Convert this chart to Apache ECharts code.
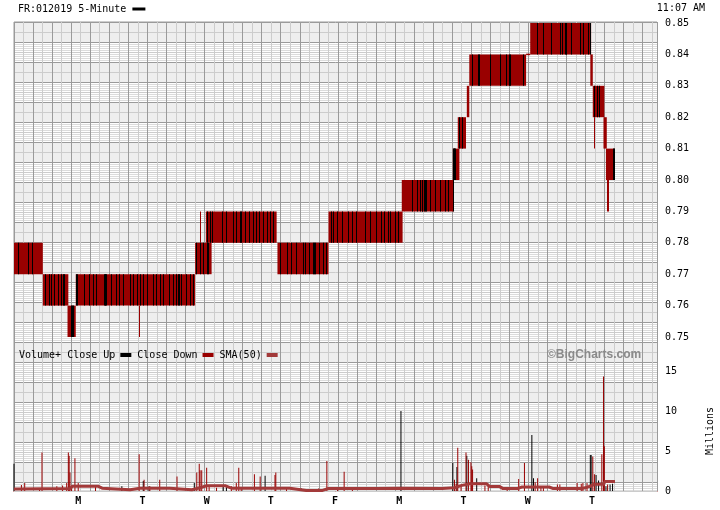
<!DOCTYPE html>
<html><head><meta charset="utf-8">
<script src="https://cdn.jsdelivr.net/npm/echarts@6/dist/echarts.min.js"></script>
<style>html,body{margin:0;padding:0;background:#fff}#c{width:720px;height:510px}</style>
</head><body><div id="c"></div>
<script>
// ---- data (bar index = 5-minute bar, 78 bars per trading day) ----
const dayLabels = ['', 'M', 'T', 'W', 'T', 'F', 'M', 'T', 'W', 'T'];
const barsPerDay = 78;
const lastBar = 781;
// runs of bars: [firstBar, endBar(excl), low, high]
const priceRuns = [
  [0, 35, 0.77, 0.78], [35, 66, 0.76, 0.77], [65, 75, 0.75, 0.76], [75, 220, 0.76, 0.77],
  [220, 240, 0.77, 0.78], [233, 319, 0.78, 0.79], [320, 382, 0.77, 0.78], [382, 472, 0.78, 0.79],
  [471, 534, 0.79, 0.80], [533, 541, 0.80, 0.81], [539, 549, 0.81, 0.82], [550, 553, 0.82, 0.83],
  [553, 622, 0.83, 0.84], [622, 627, 0.84, 0.84], [627, 701, 0.84, 0.85], [700, 703, 0.83, 0.84],
  [703, 717, 0.82, 0.83], [716, 720, 0.81, 0.82], [719, 730, 0.80, 0.81]
];
// single bars reaching outside the run: [bar, low, high]
const priceWicks = [[152, 0.75, 0.76], [226, 0.78, 0.79], [705, 0.81, 0.82], [720, 0.79, 0.80], [721, 0.79, 0.80]];
// close-up bars: [bar, low, high]
const upBars = [
  [5,0.77,0.78],[17,0.77,0.78],[22,0.77,0.78],
  [38,0.76,0.77],[43,0.76,0.77],[45,0.76,0.77],[49,0.76,0.77],[54,0.76,0.77],[57,0.76,0.77],[59,0.76,0.77],[61,0.76,0.77],
  [69,0.75,0.76],[71,0.75,0.76],[72,0.75,0.76],
  [75,0.76,0.77],[76,0.76,0.77],[85,0.76,0.77],[91,0.76,0.77],[96,0.76,0.77],[99,0.76,0.77],[109,0.76,0.77],[110,0.76,0.77],
  [111,0.76,0.77],[112,0.76,0.77],[118,0.76,0.77],[124,0.76,0.77],[128,0.76,0.77],[132,0.76,0.77],[141,0.76,0.77],[145,0.76,0.77],
  [149,0.76,0.77],[153,0.76,0.77],[157,0.76,0.77],[162,0.76,0.77],[169,0.76,0.77],[173,0.76,0.77],[177,0.76,0.77],[181,0.76,0.77],
  [188,0.76,0.77],[193,0.76,0.77],[197,0.76,0.77],[199,0.76,0.77],[201,0.76,0.77],[203,0.76,0.77],[209,0.76,0.77],[214,0.76,0.77],[217,0.76,0.77],
  [221,0.77,0.78],[226,0.77,0.78],[230,0.77,0.78],[235,0.77,0.78],[236,0.77,0.78],
  [234,0.78,0.79],[238,0.78,0.79],[241,0.78,0.79],[253,0.78,0.79],[257,0.78,0.79],[266,0.78,0.79],[270,0.78,0.79],[274,0.78,0.79],
  [276,0.78,0.79],[281,0.78,0.79],[286,0.78,0.79],[290,0.78,0.79],[294,0.78,0.79],[298,0.78,0.79],[302,0.78,0.79],[307,0.78,0.79],[311,0.78,0.79],[315,0.78,0.79],
  [323,0.77,0.78],[331,0.77,0.78],[337,0.77,0.78],[342,0.77,0.78],[351,0.77,0.78],[354,0.77,0.78],[358,0.77,0.78],[363,0.77,0.78],
  [364,0.77,0.78],[365,0.77,0.78],[371,0.77,0.78],[375,0.77,0.78],[379,0.77,0.78],
  [385,0.78,0.79],[388,0.78,0.79],[392,0.78,0.79],[399,0.78,0.79],[406,0.78,0.79],[410,0.78,0.79],[416,0.78,0.79],[426,0.78,0.79],
  [433,0.78,0.79],[440,0.78,0.79],[446,0.78,0.79],[450,0.78,0.79],[454,0.78,0.79],[457,0.78,0.79],[463,0.78,0.79],[467,0.78,0.79],
  [483,0.79,0.80],[489,0.79,0.80],[493,0.79,0.80],[495,0.79,0.80],[496,0.79,0.80],[498,0.79,0.80],[499,0.79,0.80],[500,0.79,0.80],
  [505,0.79,0.80],[511,0.79,0.80],[518,0.79,0.80],[524,0.79,0.80],[527,0.79,0.80],[533,0.79,0.80],
  [533,0.80,0.81],[534,0.80,0.81],[535,0.80,0.81],[536,0.80,0.81],
  [541,0.81,0.82],[544,0.81,0.82],
  [556,0.83,0.84],[564,0.83,0.84],[565,0.83,0.84],[578,0.83,0.84],[590,0.83,0.84],[598,0.83,0.84],[601,0.83,0.84],[602,0.83,0.84],[618,0.83,0.84],
  [635,0.84,0.85],[642,0.84,0.85],[652,0.84,0.85],[663,0.84,0.85],[666,0.84,0.85],[669,0.84,0.85],[670,0.84,0.85],[671,0.84,0.85],
  [677,0.84,0.85],[688,0.84,0.85],[691,0.84,0.85],[697,0.84,0.85],[700,0.84,0.85],
  [704,0.82,0.83],[708,0.82,0.83],[711,0.82,0.83],
  [728,0.80,0.81],[729,0.80,0.81]
];
// volume in millions: [bar, volume]
const volumeUp = [
  [0,3.4],[131,0.6],[157,1.25],[164,0.6],[219,1.0],[254,0.5],[258,0.6],[305,1.9],[349,0.3],[470,10.0],
  [533,3.5],[538,3.0],[550,4.4],[562,1.6],[629,7.0],[631,1.6],[700,4.5],[701,4.5],[707,2.0],[710,1.3],[719,0.6],[724,0.8],[727,0.9]
];
const volumeDown = [
  [9,0.75],[13,1.0],[31,0.3],[34,4.8],[52,0.6],[59,0.7],[64,1.0],[66,4.8],[67,4.4],[68,2.3],[70,0.6],[74,4.1],[78,1.0],[99,0.7],
  [152,4.6],[158,1.4],[165,0.6],[177,1.4],[198,1.8],[222,2.3],[225,3.4],[226,2.6],[228,2.6],[234,2.9],[237,0.7],[246,0.4],[264,0.6],
  [270,1.0],[273,2.9],[276,0.4],[292,2.1],[299,1.8],[317,2.0],[318,2.3],[331,0.4],[370,0.3],[380,3.75],[393,0.5],[401,2.4],[411,0.4],
  [535,1.4],[537,0.9],[539,5.4],[543,0.5],[549,4.8],[552,3.9],[555,3.6],[556,3.1],[557,2.7],[572,0.7],[576,0.9],[599,0.4],
  [613,1.5],[620,3.5],[633,1.1],[636,1.6],[640,0.5],[643,0.4],[660,0.8],[663,0.8],[684,1.0],[689,0.9],[691,1.0],[696,1.0],
  [703,4.3],[705,2.1],[714,4.6],[716,14.3],[717,5.6],[721,0.8]
];
const sma50 = [
  [0,0.25],[68,0.3],[71,0.6],[102,0.6],[107,0.35],[141,0.15],[153,0.35],[189,0.35],[216,0.15],[226,0.4],[234,0.65],[257,0.65],
  [264,0.35],[335,0.35],[355,0.05],[374,0.05],[381,0.3],[440,0.3],[470,0.35],[520,0.3],[535,0.4],[544,0.7],[554,0.9],[574,0.9],
  [578,0.55],[590,0.55],[594,0.3],[611,0.3],[617,0.5],[650,0.5],[655,0.3],[690,0.3],[700,0.6],[705,0.85],[716,0.85],[718,1.2],[730,1.2]
];

// ---- chart ----
const RED = '#990000', SMA = '#a33a3a', MONO = 'DejaVu Sans Mono';
const chart = echarts.init(document.getElementById('c'), null, {renderer: 'canvas'});

// striped fill for the white background bands
const stripe = document.createElement('canvas');
stripe.width = 2; stripe.height = 2;
const sctx = stripe.getContext('2d');
sctx.fillStyle = '#ffffff'; sctx.fillRect(0, 0, 2, 2);
sctx.fillStyle = '#dcdcdc'; sctx.fillRect(0, 0, 2, 1);

function runItem(params, api) {
  const p0 = api.coord([api.value(0), api.value(3)]);
  const p1 = api.coord([api.value(1), api.value(2)]);
  let y = p0[1], h = p1[1] - p0[1];
  if (h < 1.5) { y -= 0.75; h = 1.5; }
  return {type: 'rect', shape: {x: p0[0], y: y, width: Math.max(p1[0] - p0[0], 1), height: h}, style: {fill: RED}};
}
function lineItem(color) {
  return function (params, api) {
    const p0 = api.coord([api.value(0), api.value(2)]);
    const p1 = api.coord([api.value(0), api.value(1)]);
    return {type: 'rect', shape: {x: Math.round(p0[0]), y: p0[1], width: 1, height: p1[1] - p0[1]}, style: {fill: color}};
  };
}

chart.setOption({
  animation: false,
  backgroundColor: '#fff',
  title: [
    {text: 'FR:012019 5-Minute {s|}', left: 18, top: 4, padding: 0,
     textStyle: {fontFamily: MONO, fontSize: 10, fontWeight: 'normal', color: '#000',
       rich: {s: {backgroundColor: '#000', width: 13, height: 3}}}},
    {text: '11:07 AM', right: 15, top: 3, padding: 0, textStyle: {fontFamily: MONO, fontSize: 10, fontWeight: 'normal', color: '#000'}},
    {text: '©BigCharts.com', left: 547, top: 349, padding: 0, textStyle: {fontFamily: 'Liberation Sans', fontSize: 12, fontWeight: 'bold', color: '#8a8a8a'}}
  ],
  legend: {
    data: [{name: 'Volume+ Close Up', icon: 'rect'}, {name: 'Close Down', icon: 'rect'}, {name: 'SMA(50)', icon: 'rect'}],
    left: 14, top: 345, align: 'right', itemWidth: 11, itemHeight: 4, itemGap: 6, selectedMode: false,
    textStyle: {fontFamily: MONO, fontSize: 10, color: '#000'}
  },
  grid: [
    {left: 14, right: 63, top: 22, bottom: 19, outerBoundsMode: 'none', show: true, borderColor: '#9a9a9a', borderWidth: 1, backgroundColor: 'transparent'},
    {left: 14, right: 63, top: 23, height: 314, outerBoundsMode: 'none'},
    {left: 14, right: 63, top: 371, bottom: 19, outerBoundsMode: 'none'}
  ],
  xAxis: [
    {gridIndex: 0, type: 'value', min: 0, max: 67.5, interval: 1, z: 3,
     axisLine: {show: false}, axisTick: {show: false}, axisLabel: {show: false},
     splitLine: {show: true, lineStyle: {color: ['#9a9a9a', '#cccccc'], width: 1}}},
    {gridIndex: 1, type: 'value', min: 0, max: lastBar, show: false},
    {gridIndex: 2, type: 'value', min: 0, max: lastBar, interval: barsPerDay,
     axisLine: {show: true, lineStyle: {color: RED, width: 1}}, axisTick: {show: false}, splitLine: {show: false},
     axisLabel: {show: true, margin: 5, showMaxLabel: false, fontFamily: MONO, fontSize: 10, fontWeight: 'bold', color: '#000',
       formatter: v => dayLabels[Math.round(v / barsPerDay)] || ''}}
  ],
  yAxis: [
    {gridIndex: 0, type: 'value', inverse: true, min: 0, max: 46.9, interval: 2, z: 1,
     axisLine: {show: false}, axisTick: {show: false}, axisLabel: {show: false}, splitLine: {show: false},
     splitArea: {show: true, areaStyle: {color: ['#eeeeee', {image: stripe, repeat: 'repeat'}]}}},
    {gridIndex: 0, type: 'value', inverse: true, min: 0, max: 46.9, interval: 1, z: 3,
     axisLine: {show: false}, axisTick: {show: false}, axisLabel: {show: false},
     splitLine: {show: true, lineStyle: {color: ['#9a9a9a', '#cccccc'], width: 1}}},
    {gridIndex: 1, type: 'value', min: 0.75, max: 0.85, interval: 0.01, position: 'right',
     axisLine: {show: false}, axisTick: {show: false}, splitLine: {show: false},
     axisLabel: {margin: 8, fontFamily: MONO, fontSize: 10, color: '#000', formatter: v => v.toFixed(2)}},
    {gridIndex: 2, type: 'value', min: 0, max: 15, interval: 5, position: 'right',
     axisLine: {show: false}, axisTick: {show: false}, splitLine: {show: false},
     axisLabel: {margin: 8, fontFamily: MONO, fontSize: 10, color: '#000'},
     name: 'Millions', nameLocation: 'middle', nameRotate: 90, nameGap: 48,
     nameTextStyle: {fontFamily: MONO, fontSize: 10, color: '#000'}}
  ],
  series: [
    {type: 'custom', name: 'priceRuns', xAxisIndex: 1, yAxisIndex: 2, z: 10, clip: true,
     encode: {x: [0, 1], y: [2, 3]}, renderItem: runItem, data: priceRuns},
    {type: 'custom', name: 'priceWicks', xAxisIndex: 1, yAxisIndex: 2, z: 10, clip: true,
     encode: {x: 0, y: [1, 2]}, renderItem: lineItem(RED), data: priceWicks},
    {type: 'custom', name: 'upBars', xAxisIndex: 1, yAxisIndex: 2, z: 11, clip: true,
     encode: {x: 0, y: [1, 2]}, renderItem: lineItem('#000'), data: upBars},
    {type: 'bar', name: 'Volume+ Close Up', xAxisIndex: 2, yAxisIndex: 3, z: 10, barWidth: 1, barGap: '-100%',
     itemStyle: {color: '#000'}, data: volumeUp},
    {type: 'bar', name: 'Close Down', xAxisIndex: 2, yAxisIndex: 3, z: 10, barWidth: 1, barGap: '-100%',
     itemStyle: {color: RED}, data: volumeDown},
    {type: 'line', name: 'SMA(50)', xAxisIndex: 2, yAxisIndex: 3, z: 12, showSymbol: false, symbol: 'none',
     lineStyle: {color: SMA, width: 3}, itemStyle: {color: SMA}, data: sma50}
  ]
});
</script></body></html>
